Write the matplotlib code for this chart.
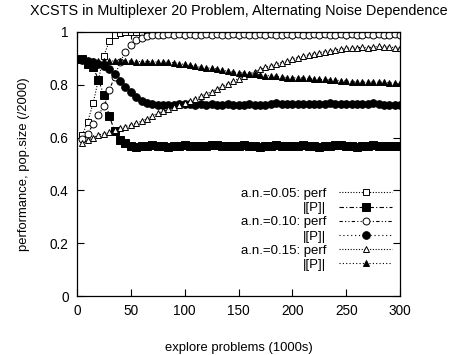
import numpy as np
import matplotlib
matplotlib.use("Agg")
import matplotlib.pyplot as plt

plt.rcParams['font.family'] = ['Liberation Sans', 'DejaVu Sans']

x = list(range(5, 301, 5))

perf_005 = [0.61, 0.66, 0.73, 0.82, 0.91, 0.965, 0.99, 0.997, 1.0, 1.0,
            0.999, 1.0, 1.0, 0.999, 1.0, 1.0, 0.999, 1.0, 1.0, 1.0,
            0.999, 1.0, 1.0, 0.999, 1.0, 1.0, 1.0, 0.999, 1.0, 1.0,
            1.0, 0.999, 1.0, 1.0, 0.999, 1.0, 1.0, 1.0, 0.999, 1.0,
            1.0, 0.999, 1.0, 1.0, 1.0, 0.999, 1.0, 1.0, 0.999, 1.0,
            1.0, 1.0, 0.999, 1.0, 1.0, 0.999, 1.0, 1.0, 1.0, 0.999]
pop_005 = [0.898, 0.88, 0.867, 0.818, 0.761, 0.682, 0.625, 0.59, 0.58, 0.568,
           0.565, 0.567, 0.57, 0.572, 0.57, 0.568, 0.566, 0.568, 0.57, 0.571,
           0.569, 0.567, 0.568, 0.57, 0.573, 0.571, 0.569, 0.568, 0.567, 0.569,
           0.571, 0.57, 0.568, 0.566, 0.568, 0.57, 0.572, 0.57, 0.568, 0.567,
           0.569, 0.571, 0.57, 0.568, 0.566, 0.567, 0.569, 0.571, 0.573, 0.57,
           0.568, 0.566, 0.567, 0.569, 0.571, 0.57, 0.568, 0.567, 0.569, 0.57]
perf_010 = [0.595, 0.615, 0.65, 0.685, 0.72, 0.78, 0.83, 0.885, 0.925, 0.95,
            0.968, 0.978, 0.985, 0.988, 0.99, 0.99, 0.991, 0.99, 0.991, 0.99,
            0.991, 0.99, 0.99, 0.991, 0.99, 0.991, 0.99, 0.99, 0.991, 0.99,
            0.991, 0.99, 0.99, 0.991, 0.99, 0.991, 0.99, 0.99, 0.991, 0.99,
            0.991, 0.99, 0.99, 0.991, 0.99, 0.991, 0.99, 0.99, 0.991, 0.99,
            0.991, 0.99, 0.99, 0.991, 0.99, 0.991, 0.99, 0.99, 0.991, 0.99]
pop_010 = [0.895, 0.89, 0.885, 0.88, 0.872, 0.86, 0.84, 0.815, 0.793, 0.772,
           0.752, 0.74, 0.732, 0.727, 0.725, 0.724, 0.725, 0.724, 0.726, 0.728,
           0.727, 0.725, 0.726, 0.725, 0.727, 0.725, 0.724, 0.726, 0.725, 0.724,
           0.725, 0.727, 0.725, 0.724, 0.725, 0.727, 0.73, 0.729, 0.728, 0.727,
           0.726, 0.728, 0.728, 0.727, 0.728, 0.729, 0.73, 0.728, 0.727, 0.728,
           0.727, 0.727, 0.728, 0.729, 0.73, 0.728, 0.725, 0.725, 0.725, 0.722]
perf_015 = [0.58, 0.59, 0.60, 0.61, 0.615, 0.62, 0.628, 0.635, 0.642, 0.648,
            0.655, 0.662, 0.672, 0.682, 0.692, 0.70, 0.707, 0.714, 0.722, 0.73,
            0.74, 0.748, 0.756, 0.765, 0.774, 0.784, 0.794, 0.804, 0.814, 0.823,
            0.832, 0.841, 0.85, 0.858, 0.866, 0.872, 0.878, 0.884, 0.89, 0.896,
            0.903, 0.908, 0.913, 0.918, 0.921, 0.925, 0.929, 0.932, 0.936, 0.939,
            0.938, 0.94, 0.942, 0.94, 0.943, 0.945, 0.942, 0.944, 0.94, 0.938]
pop_015 = [0.895, 0.89, 0.89, 0.89, 0.89, 0.89, 0.89, 0.89, 0.89, 0.89,
           0.888, 0.888, 0.888, 0.887, 0.886, 0.886, 0.885, 0.884, 0.88, 0.877,
           0.873, 0.87, 0.866, 0.864, 0.862, 0.86, 0.855, 0.851, 0.848, 0.846,
           0.845, 0.842, 0.84, 0.837, 0.835, 0.834, 0.832, 0.83, 0.827, 0.827,
           0.825, 0.826, 0.824, 0.822, 0.82, 0.82, 0.818, 0.818, 0.815, 0.814,
           0.812, 0.81, 0.81, 0.81, 0.81, 0.81, 0.81, 0.808, 0.805, 0.805]

labels = ["a.n.=0.05: perf", "|[P]|", "a.n.=0.10: perf", "|[P]|",
          "a.n.=0.15: perf", "|[P]|"]
xticks = [0, 50, 100, 150, 200, 250, 300]
yticks = [0, 0.2, 0.4, 0.6, 0.8, 1]
yticklabels = ["0", "0.2", "0.4", "0.6", "0.8", "1"]

fig = plt.figure(figsize=(4.5, 3.55), dpi=100)
ax = fig.add_axes([0.171, 0.166, 0.718, 0.744])

lw = 0.8
styles = [
    dict(marker='s', mfc='white', mec='black', ms=5, ls=(0, (1, 1.5)), mew=0.7),
    dict(marker='s', mfc='black', mec='black', ms=5.5, ls=(0, (4, 2, 1, 2)), mew=0.7),
    dict(marker='o', mfc='white', mec='black', ms=5, ls=(0, (3, 2, 1, 2, 1, 2)), mew=0.7),
    dict(marker='o', mfc='black', mec='black', ms=5.5, ls=(0, (1, 2.5)), mew=0.7),
    dict(marker='^', mfc='white', mec='black', ms=5, ls=(0, (1, 1.5)), mew=0.7),
    dict(marker='^', mfc='black', mec='black', ms=5, ls=(0, (1, 2)), mew=0.7),
]
series = [perf_005, pop_005, perf_010, pop_010, perf_015, pop_015]
for ys, st, lab in zip(series, styles, labels):
    ax.plot(x, ys, color='black', lw=lw, label=lab, **st)

ax.set_xlim(0, 300)
ax.set_ylim(0, 1)
ax.set_xticks(xticks)
ax.set_yticks(yticks)
ax.set_yticklabels(yticklabels)
ax.tick_params(direction='in', length=5, width=0.8, top=True, right=True,
               labelsize=9.8, pad=6)
for s in ax.spines.values():
    s.set_linewidth(0.9)

ax.set_title("XCSTS in Multiplexer 20 Problem, Alternating Noise Dependence",
             fontsize=10.4, pad=12)
ax.set_xlabel("explore problems (1000s)", fontsize=9.4, labelpad=17)
ax.set_ylabel("performance, pop.size (/2000)", fontsize=9.4, labelpad=14)

leg = ax.legend(loc='upper right', bbox_to_anchor=(1.0, 0.44), markerfirst=False,
                frameon=False, fontsize=9.5, handlelength=4.0, handletextpad=1.0,
                labelspacing=0.15, borderaxespad=0.2)

fig.savefig("out.png", dpi=100)
